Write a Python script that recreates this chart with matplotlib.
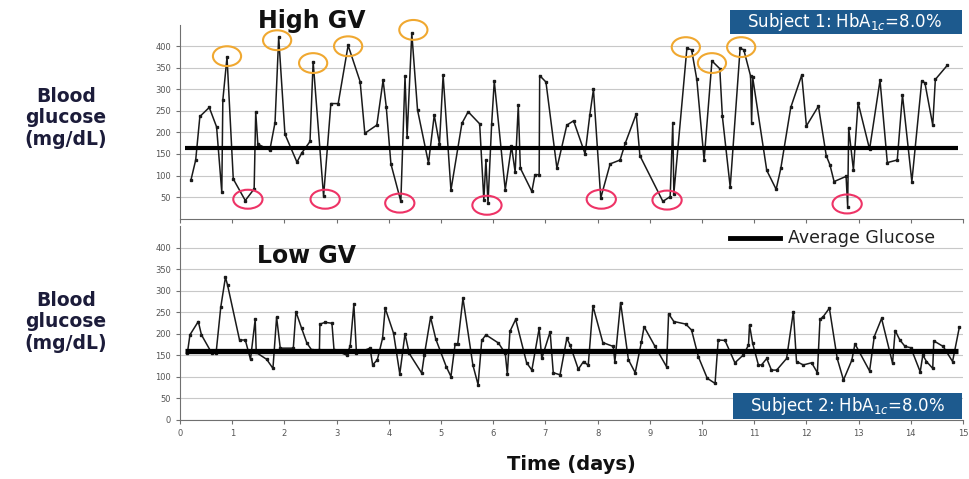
import matplotlib
matplotlib.use("Agg")
import matplotlib.pyplot as plt
from matplotlib.patches import Ellipse, Rectangle
from matplotlib.lines import Line2D

# subject 1 (high glycemic variability), day / mg/dL
high_days = [0.21, 0.30, 0.38, 0.56, 0.70, 0.80, 0.82, 0.90, 1.02, 1.25,
             1.42, 1.45, 1.49, 1.72, 1.82, 1.89, 2.01, 2.24, 2.33, 2.49,
             2.55, 2.75, 2.89, 3.03, 3.22, 3.45, 3.54, 3.77, 3.89, 3.95,
             4.04, 4.23, 4.31, 4.35, 4.44, 4.55, 4.76, 4.87, 4.97, 5.04,
             5.19, 5.40, 5.52, 5.74, 5.82, 5.86, 5.90, 5.97, 6.02, 6.23,
             6.35, 6.42, 6.48, 6.52, 6.74, 6.80, 6.88, 6.89, 7.01, 7.22,
             7.41, 7.54, 7.76, 7.85, 7.92, 8.06, 8.24, 8.43, 8.53, 8.74,
             8.81, 9.25, 9.39, 9.44, 9.46, 9.71, 9.80, 9.90, 10.04, 10.19,
             10.34, 10.39, 10.54, 10.73, 10.80, 10.93, 10.95, 10.97, 11.24, 11.42,
             11.51, 11.70, 11.91, 12.00, 12.23, 12.38, 12.45, 12.53, 12.76, 12.79,
             12.81, 12.90, 12.99, 13.21, 13.41, 13.55, 13.74, 13.84, 14.02, 14.21,
             14.27, 14.42, 14.47, 14.70]
high_vals = [90, 136, 237, 258, 213, 61, 275, 375, 92, 42,
             69, 248, 173, 159, 223, 421, 196, 131, 152, 179,
             364, 52, 267, 267, 402, 318, 198, 217, 321, 260,
             127, 40, 330, 190, 430, 252, 129, 240, 173, 333,
             66, 221, 248, 220, 44, 136, 36, 220, 319, 67,
             168, 108, 263, 117, 63, 102, 102, 332, 317, 117,
             217, 227, 150, 240, 300, 48, 127, 136, 175, 243,
             146, 40, 51, 223, 58, 395, 392, 323, 136, 366,
             348, 237, 73, 395, 392, 331, 223, 328, 112, 68,
             117, 258, 333, 215, 261, 146, 125, 86, 98, 28,
             210, 113, 269, 161, 321, 130, 136, 287, 86, 320,
             315, 217, 323, 356]

# subject 2 (low glycemic variability)
low_days = [0.14, 0.19, 0.35, 0.41, 0.61, 0.69, 0.78, 0.87, 0.91, 1.14,
            1.25, 1.35, 1.44, 1.46, 1.66, 1.78, 1.85, 1.92, 2.17, 2.22,
            2.33, 2.43, 2.52, 2.67, 2.68, 2.78, 2.91, 2.95, 3.19, 3.26,
            3.33, 3.38, 3.64, 3.69, 3.78, 3.88, 3.93, 4.09, 4.21, 4.31,
            4.39, 4.63, 4.68, 4.80, 4.90, 5.10, 5.19, 5.27, 5.32, 5.42,
            5.61, 5.71, 5.78, 5.86, 6.10, 6.23, 6.27, 6.32, 6.43, 6.64,
            6.74, 6.88, 6.93, 7.09, 7.15, 7.28, 7.41, 7.47, 7.63, 7.73,
            7.82, 7.91, 8.10, 8.30, 8.33, 8.44, 8.59, 8.72, 8.84, 8.89,
            9.10, 9.32, 9.36, 9.46, 9.69, 9.80, 9.93, 10.10, 10.25, 10.31,
            10.44, 10.63, 10.79, 10.89, 10.91, 10.97, 11.08, 11.14, 11.24, 11.33,
            11.43, 11.62, 11.75, 11.81, 11.94, 12.10, 12.21, 12.26, 12.32, 12.44,
            12.59, 12.71, 12.87, 12.93, 13.21, 13.30, 13.44, 13.65, 13.70, 13.79,
            13.89, 14.00, 14.18, 14.23, 14.30, 14.42, 14.44, 14.62, 14.80, 14.93]
low_vals = [155, 198, 229, 198, 155, 155, 262, 332, 314, 186,
            186, 141, 234, 157, 141, 120, 239, 167, 167, 252,
            213, 179, 163, 163, 223, 227, 225, 163, 151, 172,
            269, 155, 167, 128, 140, 190, 260, 202, 107, 200,
            155, 109, 151, 239, 188, 124, 101, 177, 177, 283,
            128, 82, 185, 198, 179, 155, 107, 206, 234, 133,
            116, 213, 143, 205, 110, 105, 190, 175, 118, 136,
            127, 265, 180, 171, 135, 273, 140, 110, 182, 217,
            171, 124, 247, 229, 223, 209, 147, 97, 85, 186,
            185, 133, 151, 174, 221, 178, 128, 128, 143, 116,
            116, 143, 252, 136, 128, 133, 110, 234, 240, 260,
            143, 93, 139, 177, 114, 194, 236, 132, 208, 186,
            171, 168, 112, 151, 136, 120, 184, 171, 136, 216]

avg_high = 164
avg_low = 161

# circled extremes on subject 1
peak_days = [0.90, 1.86, 2.55, 3.22, 4.47, 9.69, 10.19, 10.75]
peak_vals = [377, 414, 361, 400, 438, 398, 361, 398]
nadir_days = [1.30, 2.78, 4.21, 5.88, 8.07, 9.33, 12.78]
nadir_vals = [45, 45, 36, 31, 45, 43, 34]

navy = "#1c1c3a"
box_blue = "#1d5a8e"

fig = plt.figure(figsize=(9.7, 4.79), dpi=100)
ax1 = fig.add_axes([0.1856, 0.5436, 0.8072, 0.4048])
ax2 = fig.add_axes([0.1856, 0.1232, 0.8072, 0.404])

for ax in (ax1, ax2):
    ax.set_xlim(0, 15)
    ax.set_ylim(0, 450)
    ax.set_xticks(range(0, 16))
    ax.grid(axis="y", color="#c8c8c8", lw=0.8)
    ax.set_axisbelow(True)
    for s in ("top", "right"):
        ax.spines[s].set_visible(False)
    for s in ("left", "bottom"):
        ax.spines[s].set_color("#707070")
    ax.tick_params(colors="#707070", labelcolor="#555555", labelsize=6,
                   length=3, width=0.8)

ax1.set_yticks(range(50, 401, 50))
ax1.set_xticklabels([])
ax2.set_yticks(range(0, 401, 50))

ax1.plot(high_days, high_vals, color="#1a1a1a", lw=1.1, marker="s", ms=2.0)
ax2.plot(low_days, low_vals, color="#1a1a1a", lw=1.1, marker="s", ms=2.0)
ax1.hlines(avg_high, 0.1, 14.9, color="black", lw=3.0, zorder=4)
ax2.hlines(avg_low, 0.1, 14.9, color="black", lw=3.8, zorder=4)

for d, v in zip(peak_days, peak_vals):
    ax1.add_patch(Ellipse((d, v), 0.54, 46, fill=False, ec="#f0a830", lw=1.5,
                          clip_on=False, zorder=5))
for d, v in zip(nadir_days, nadir_vals):
    ax1.add_patch(Ellipse((d, v), 0.56, 44, fill=False, ec="#ee3366", lw=1.5,
                          clip_on=False, zorder=5))

fig.text(312 / 970, 1 - 21 / 479, "High GV", ha="center", va="center",
         fontsize=17, fontweight="bold", color="#111111")
fig.text(307 / 970, 1 - 256 / 479, "Low GV", ha="center", va="center",
         fontsize=17, fontweight="bold", color="#111111")
ax2.set_xlabel("Time (days)", fontsize=14, fontweight="bold", color="#111111",
               labelpad=12)

for y in (0.754, 0.328):
    fig.text(0.068, y, "Blood\nglucose\n(mg/dL)", ha="center", va="center",
             fontsize=13.5, fontweight="bold", color=navy, linespacing=1.15)

# subject boxes
fig.patches.append(Rectangle((730 / 970, 1 - 34 / 479), 232 / 970, 24 / 479,
                             transform=fig.transFigure, fc=box_blue, ec="none"))
fig.text(844 / 970, 1 - 22 / 479, "Subject 1: HbA$_{1c}$=8.0%", ha="center",
         va="center", color="white", fontsize=12)
fig.patches.append(Rectangle((733 / 970, 1 - 419 / 479), 229 / 970, 26 / 479,
                             transform=fig.transFigure, fc=box_blue, ec="none"))
fig.text(847 / 970, 1 - 406 / 479, "Subject 2: HbA$_{1c}$=8.0%", ha="center",
         va="center", color="white", fontsize=12)

# legend
fig.add_artist(Line2D([730 / 970, 780 / 970], [1 - 238 / 479, 1 - 238 / 479],
                      color="black", lw=3.5))
fig.text(788 / 970, 1 - 238 / 479, "Average Glucose", ha="left", va="center",
         color="#222222", fontsize=12.5)

fig.savefig("out.png", dpi=100)
